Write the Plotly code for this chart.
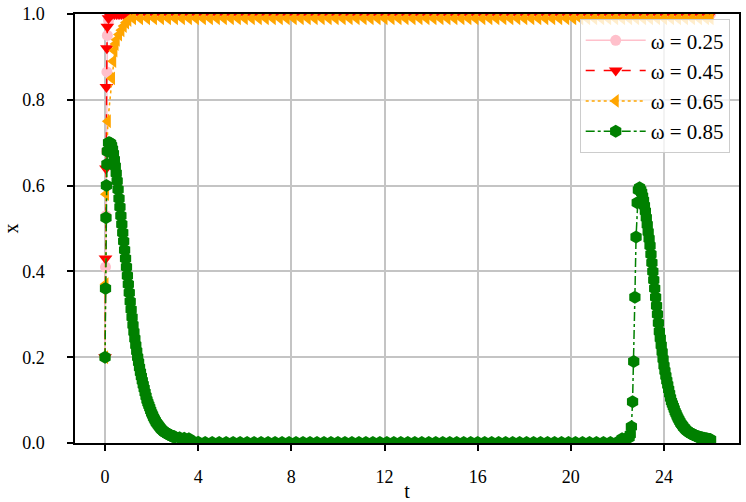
"""x(t) curves for four omega values."""

from __future__ import annotations

import plotly.graph_objects as go

# shared plateau grid for the three curves that settle at the top
T_PLATEAU = [
    1.2, 1.5, 1.8, 2.1, 2.4, 2.7, 3.0, 3.3, 3.6, 3.9, 4.2, 4.5,
    4.8, 5.1, 5.4, 5.7, 6.0, 6.3, 6.6, 6.9, 7.2, 7.5, 7.8, 8.1,
    8.4, 8.7, 9.0, 9.3, 9.6, 9.9, 10.2, 10.5, 10.8, 11.1, 11.4, 11.7,
    12.0, 12.3, 12.6, 12.9, 13.2, 13.5, 13.8, 14.1, 14.4, 14.7, 15.0, 15.3,
    15.6, 15.9, 16.2, 16.5, 16.8, 17.1, 17.4, 17.7, 18.0, 18.3, 18.6, 18.9,
    19.2, 19.5, 19.8, 20.1, 20.4, 20.7, 21.0, 21.3, 21.6, 21.9, 22.2, 22.5,
    22.8, 23.1, 23.4, 23.7, 24.0, 24.3, 24.6, 24.9, 25.2, 25.5, 25.8, 26.0,
]

PINK_T_EARLY = [0, 0.02, 0.04, 0.06, 0.08, 0.1, 0.15, 0.2, 0.3, 0.4, 0.5, 0.6, 0.7, 0.8, 0.9, 1.0]
PINK_X_EARLY = [0.2, 0.41, 0.53, 0.68, 0.865, 0.95, 0.985, 0.995, 0.999, 1.0, 1.0, 1.0, 1.0, 1.0, 1.0, 1.0]
PINK_X_PLATEAU = [
    1.0, 1.0, 1.0, 1.0, 1.0, 1.0, 1.0, 1.0, 1.0, 1.0, 1.0, 1.0,
    1.0, 1.0, 1.0, 1.0, 1.0, 1.0, 1.0, 1.0, 1.0, 1.0, 1.0, 1.0,
    1.0, 1.0, 1.0, 1.0, 1.0, 1.0, 1.0, 1.0, 1.0, 1.0, 1.0, 1.0,
    1.0, 1.0, 1.0, 1.0, 1.0, 1.0, 1.0, 1.0, 1.0, 1.0, 1.0, 1.0,
    1.0, 1.0, 1.0, 1.0, 1.0, 1.0, 1.0, 1.0, 1.0, 1.0, 1.0, 1.0,
    1.0, 1.0, 1.0, 1.0, 1.0, 1.0, 1.0, 1.0, 1.0, 1.0, 1.0, 1.0,
    1.0, 1.0, 1.0, 1.0, 1.0, 1.0, 1.0, 1.0, 1.0, 1.0, 1.0, 1.0,
]

RED_T_EARLY = [0, 0.02, 0.04, 0.06, 0.08, 0.1, 0.15, 0.2, 0.3, 0.4, 0.5, 0.6, 0.7, 0.8, 0.9, 1.0]
RED_X_EARLY = [0.2, 0.43, 0.64, 0.83, 0.92, 0.97, 0.99, 0.997, 1.0, 1.0, 1.0, 1.0, 1.0, 1.0, 1.0, 1.0]
RED_X_PLATEAU = [
    1.0, 1.0, 1.0, 1.0, 1.0, 1.0, 1.0, 1.0, 1.0, 1.0, 1.0, 1.0,
    1.0, 1.0, 1.0, 1.0, 1.0, 1.0, 1.0, 1.0, 1.0, 1.0, 1.0, 1.0,
    1.0, 1.0, 1.0, 1.0, 1.0, 1.0, 1.0, 1.0, 1.0, 1.0, 1.0, 1.0,
    1.0, 1.0, 1.0, 1.0, 1.0, 1.0, 1.0, 1.0, 1.0, 1.0, 1.0, 1.0,
    1.0, 1.0, 1.0, 1.0, 1.0, 1.0, 1.0, 1.0, 1.0, 1.0, 1.0, 1.0,
    1.0, 1.0, 1.0, 1.0, 1.0, 1.0, 1.0, 1.0, 1.0, 1.0, 1.0, 1.0,
    1.0, 1.0, 1.0, 1.0, 1.0, 1.0, 1.0, 1.0, 1.0, 1.0, 1.0, 1.0,
]

ORANGE_T_EARLY = [0, 0.02, 0.04, 0.12, 0.3, 0.35, 0.4, 0.45, 0.5, 0.6, 0.7, 0.8, 0.9, 1.0]
ORANGE_X_EARLY = [0.2, 0.37, 0.58, 0.75, 0.85, 0.89, 0.915, 0.93, 0.94, 0.952, 0.962, 0.972, 0.98, 0.986]
ORANGE_X_PLATEAU = [
    0.99, 0.99, 0.99, 0.99, 0.99, 0.99, 0.99, 0.99, 0.99, 0.99, 0.99, 0.99,
    0.99, 0.99, 0.99, 0.99, 0.99, 0.99, 0.99, 0.99, 0.99, 0.99, 0.99, 0.99,
    0.99, 0.99, 0.99, 0.99, 0.99, 0.99, 0.99, 0.99, 0.99, 0.99, 0.99, 0.99,
    0.99, 0.99, 0.99, 0.99, 0.99, 0.99, 0.99, 0.99, 0.99, 0.99, 0.99, 0.99,
    0.99, 0.99, 0.99, 0.99, 0.99, 0.99, 0.99, 0.99, 0.99, 0.99, 0.99, 0.99,
    0.99, 0.99, 0.99, 0.99, 0.99, 0.99, 0.99, 0.99, 0.99, 0.99, 0.99, 0.99,
    0.99, 0.99, 0.99, 0.99, 0.99, 0.99, 0.99, 0.99, 0.99, 0.99, 0.99, 0.99,
]

# omega = 0.85: first spike and its decay
GREEN_T_FIRST = [
    0, 0.02, 0.04, 0.06, 0.08, 0.1, 0.15,
    0.20, 0.24, 0.28, 0.32, 0.36, 0.40, 0.44, 0.48, 0.52, 0.56, 0.60,
    0.64, 0.68, 0.72, 0.76, 0.80, 0.84, 0.88, 0.92, 0.96, 1.00,
    1.04, 1.08, 1.12, 1.16, 1.20, 1.24, 1.28, 1.32, 1.36, 1.40,
    1.44, 1.48, 1.52, 1.56, 1.60, 1.64, 1.68, 1.72, 1.76, 1.80,
    1.84, 1.88, 1.92, 1.96, 2.00, 2.04, 2.08, 2.12, 2.16, 2.20,
    2.24, 2.28, 2.32, 2.36, 2.40, 2.44, 2.48, 2.52, 2.56, 2.60,
    2.64, 2.68, 2.72, 2.76, 2.80, 2.84, 2.88, 2.92, 2.96, 3.00,
    3.2, 3.4, 3.6, 3.8, 4.0,
]
GREEN_X_FIRST = [
    0.2, 0.36, 0.525, 0.6, 0.65, 0.68, 0.70,
    0.700, 0.698, 0.693, 0.685, 0.674, 0.660, 0.645, 0.629, 0.611, 0.591, 0.570,
    0.550, 0.530, 0.510, 0.490, 0.470, 0.450, 0.430, 0.410, 0.390, 0.370,
    0.350, 0.330, 0.311, 0.293, 0.275, 0.259, 0.243, 0.228, 0.214, 0.200,
    0.188, 0.176, 0.165, 0.155, 0.145, 0.136, 0.127, 0.118, 0.109, 0.100,
    0.094, 0.088, 0.082, 0.076, 0.070, 0.065, 0.060, 0.056, 0.052, 0.048,
    0.045, 0.042, 0.039, 0.036, 0.033, 0.031, 0.029, 0.027, 0.025, 0.024,
    0.023, 0.022, 0.020, 0.019, 0.018, 0.017, 0.016, 0.015, 0.015, 0.014,
    0.012, 0.011, 0.010, 0.003, 0.002,
]

# omega = 0.85: long quiet stretch
GREEN_T_QUIET = [
    4.3, 4.6, 4.9, 5.2, 5.5, 5.8, 6.1, 6.4, 6.7, 7.0, 7.3, 7.6,
    7.9, 8.2, 8.5, 8.8, 9.1, 9.4, 9.7, 10.0, 10.3, 10.6, 10.9, 11.2,
    11.5, 11.8, 12.1, 12.4, 12.7, 13.0, 13.3, 13.6, 13.9, 14.2, 14.5, 14.8,
    15.1, 15.4, 15.7, 16.0, 16.3, 16.6, 16.9, 17.2, 17.5, 17.8, 18.1, 18.4,
    18.7, 19.0, 19.3, 19.6, 19.9, 20.2, 20.5, 20.8, 21.1, 21.4, 21.7,
]
GREEN_X_QUIET = [
    0.001, 0.001, 0.001, 0.001, 0.001, 0.001, 0.001, 0.001, 0.001, 0.001, 0.001, 0.001,
    0.001, 0.001, 0.001, 0.001, 0.001, 0.001, 0.001, 0.001, 0.001, 0.001, 0.001, 0.001,
    0.001, 0.001, 0.001, 0.001, 0.001, 0.001, 0.001, 0.001, 0.001, 0.001, 0.001, 0.001,
    0.001, 0.001, 0.001, 0.001, 0.001, 0.001, 0.001, 0.001, 0.001, 0.001, 0.001, 0.001,
    0.001, 0.001, 0.001, 0.001, 0.001, 0.001, 0.001, 0.001, 0.001, 0.001, 0.001,
]

# omega = 0.85: second spike and its decay
GREEN_T_SECOND = [
    22.0, 22.2, 22.4, 22.5, 22.55, 22.6, 22.65, 22.7, 22.75, 22.8, 22.85, 22.9, 22.95, 23.0,
    23.04, 23.08, 23.12, 23.16, 23.20, 23.24, 23.28, 23.32, 23.36, 23.40,
    23.44, 23.48, 23.52, 23.56, 23.60, 23.64, 23.68, 23.72, 23.76, 23.80,
    23.84, 23.88, 23.92, 23.96, 24.00, 24.04, 24.08, 24.12, 24.16, 24.20,
    24.24, 24.28, 24.32, 24.36, 24.40, 24.44, 24.48, 24.52, 24.56, 24.60,
    24.64, 24.68, 24.72, 24.76, 24.80, 24.84, 24.88, 24.92, 24.96, 25.00,
    25.04, 25.08, 25.12, 25.16, 25.20, 25.24, 25.28, 25.32, 25.36, 25.40,
    25.44, 25.48, 25.52, 25.56, 25.60, 25.64, 25.68, 25.72, 25.76, 25.80,
    25.84, 25.88, 25.92, 25.96, 26.00,
]
GREEN_X_SECOND = [
    0.002, 0.01, 0.011, 0.013, 0.02, 0.038, 0.096, 0.19, 0.34, 0.48, 0.56, 0.59, 0.595, 0.59,
    0.584, 0.575, 0.565, 0.553, 0.540, 0.525, 0.509, 0.492, 0.476, 0.460,
    0.440, 0.420, 0.400, 0.380, 0.360, 0.340, 0.320, 0.300, 0.280, 0.260,
    0.244, 0.228, 0.212, 0.196, 0.180, 0.168, 0.156, 0.145, 0.135, 0.125,
    0.115, 0.105, 0.097, 0.091, 0.085, 0.079, 0.073, 0.068, 0.063, 0.058,
    0.054, 0.050, 0.046, 0.043, 0.040, 0.037, 0.035, 0.032, 0.030, 0.028,
    0.026, 0.025, 0.023, 0.022, 0.021, 0.020, 0.019, 0.018, 0.017, 0.016,
    0.015, 0.014, 0.014, 0.013, 0.012, 0.012, 0.011, 0.011, 0.010, 0.010,
    0.010, 0.009, 0.009, 0.008, 0.008,
]

X_TICKS = [0, 4, 8, 12, 16, 20, 24]
Y_TICKS = [0.0, 0.2, 0.4, 0.6, 0.8, 1.0]

SERIES = [
    ("ω = 0.25", PINK_T_EARLY + T_PLATEAU, PINK_X_EARLY + PINK_X_PLATEAU,
     "pink", "solid", "circle", 11),
    ("ω = 0.45", RED_T_EARLY + T_PLATEAU, RED_X_EARLY + RED_X_PLATEAU,
     "red", "dash", "triangle-down", 12),
    ("ω = 0.65", ORANGE_T_EARLY + T_PLATEAU, ORANGE_X_EARLY + ORANGE_X_PLATEAU,
     "orange", "dot", "triangle-left", 12),
    ("ω = 0.85", GREEN_T_FIRST + GREEN_T_QUIET + GREEN_T_SECOND,
     GREEN_X_FIRST + GREEN_X_QUIET + GREEN_X_SECOND,
     "green", "dashdot", "hexagon", 13),
]

FONT = "Liberation Serif, Times New Roman, serif"


def build_chart() -> go.Figure:
    fig = go.Figure()
    for name, t, x, color, dash, symbol, size in SERIES:
        fig.add_trace(
            go.Scatter(
                x=t,
                y=x,
                mode="lines+markers",
                name=name,
                line=dict(color=color, width=1.5, dash=dash),
                marker=dict(color=color, size=size, symbol=symbol, line=dict(width=0)),
            )
        )

    fig.update_layout(
        width=746,
        height=502,
        margin=dict(l=75, r=7, t=14, b=59),
        paper_bgcolor="white",
        plot_bgcolor="white",
        font=dict(family=FONT, size=18, color="black"),
        legend=dict(
            x=0.986,
            y=0.988,
            xanchor="right",
            yanchor="top",
            bgcolor="rgba(255,255,255,0.8)",
            bordercolor="#cccccc",
            borderwidth=1,
            font=dict(family=FONT, size=21, color="black"),
            itemwidth=60,
        ),
        showlegend=True,
    )
    axis_style = dict(
        automargin=False,
        showline=True,
        mirror=True,
        linecolor="black",
        linewidth=1.5,
        ticks="outside",
        ticklen=6,
        tickwidth=1.5,
        tickcolor="black",
        showgrid=True,
        gridcolor="#c4c4c4",
        gridwidth=1.5,
        zeroline=False,
    )
    fig.update_xaxes(
        range=[-1.29, 27.22],
        tickvals=X_TICKS,
        ticklabelstandoff=11,
        title=dict(text="t", font=dict(size=20), standoff=6),
        **axis_style,
    )
    fig.update_yaxes(
        range=[0, 1],
        tickvals=Y_TICKS,
        tickformat=".1f",
        ticklabelstandoff=19,
        title=dict(text="x", font=dict(size=20), standoff=14),
        **axis_style,
    )
    return fig


fig = build_chart()
# the page body has a default 8px margin; drop it so the figure fills the window
fig.write_html(
    "out.html",
    config={"displayModeBar": False},
    post_script="document.body.style.margin = '0';",
)
